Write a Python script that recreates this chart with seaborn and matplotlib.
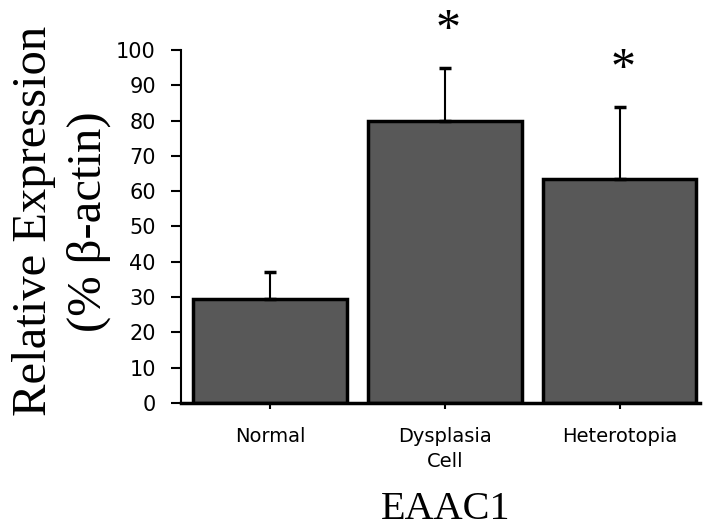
import matplotlib
matplotlib.use("Agg")
import matplotlib.pyplot as plt
import seaborn as sns
import pandas as pd
import numpy as np

categories = ["Normal", "Dysplasia\nCell", "Heterotopia"]
means = [29.5, 80.0, 63.4]
errors = [7.7, 14.9, 20.4]
significant = [False, True, True]
y_ticks = [0, 10, 20, 30, 40, 50, 60, 70, 80, 90, 100]

sns.set_style("ticks")
plt.rcParams["font.family"] = ["DejaVu Sans"]
plt.rcParams["text.color"] = "black"
plt.rcParams["xtick.color"] = "black"
plt.rcParams["ytick.color"] = "black"
plt.rcParams["axes.labelcolor"] = "black"

df = pd.DataFrame({"group": categories, "value": means})

fig = plt.figure(figsize=(7.12, 5.32), dpi=100)
ax = fig.add_axes([0.254, 0.2425, 0.729, 0.6635])

sns.barplot(data=df, x="group", y="value", order=categories, color="#585858",
            saturation=1, width=0.88, edgecolor="black", linewidth=2.5,
            errorbar=None, ax=ax)

xpos = np.arange(len(categories))
ax.errorbar(xpos, means, yerr=[np.zeros(len(errors)), errors], fmt="none",
            ecolor="black", elinewidth=1.5, capsize=4.5, capthick=2.5, zorder=1)

for x, m, e, s in zip(xpos, means, errors, significant):
    if s:
        ax.text(x + 0.02, m + e + 10.5, "*", ha="center", va="center",
                fontsize=36, family="Liberation Serif", color="black")

ax.set_ylim(0, 100)
ax.set_xlim(-0.51, 2.46)
ax.set_yticks(y_ticks)
ax.set_yticklabels([str(t) for t in y_ticks], fontsize=15)
ax.set_xticks(xpos)
ax.set_xticklabels(categories, fontsize=14, linespacing=1.45)
ax.tick_params(axis="y", length=7, width=1.5, pad=11, colors="black")
ax.tick_params(axis="x", length=4, width=1.5, pad=13, colors="black")

sns.despine(ax=ax)
ax.spines["left"].set_linewidth(1.5)
ax.spines["bottom"].set_linewidth(2.5)
ax.spines["left"].set_color("black")
ax.spines["bottom"].set_color("black")

ax.set_ylabel("Relative Expression\n(% \u03b2-actin)", fontsize=35,
              family="Liberation Serif", linespacing=1.3)
ax.yaxis.set_label_coords(-0.135, 0.515)
ax.set_xlabel("EAAC1", fontsize=29, family="Liberation Serif")
ax.xaxis.set_label_coords(0.51, -0.25)
ax.xaxis.label.set_va("top")

fig.savefig("out.png", dpi=100, facecolor="white")
